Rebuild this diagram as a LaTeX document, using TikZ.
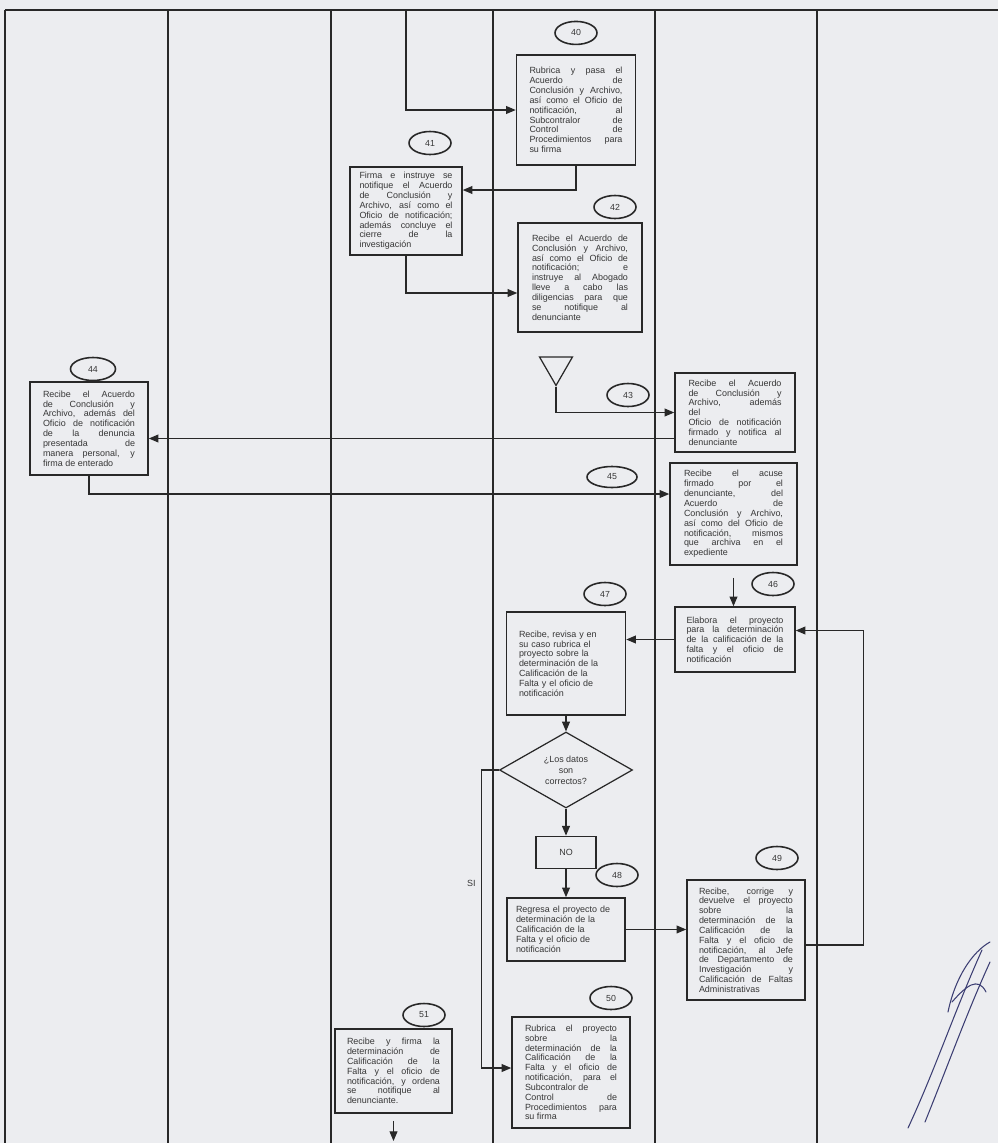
\documentclass[tikz,border=0pt]{standalone}
\usepackage{fontspec}
\setmainfont{Liberation Sans}
\usepackage{tikz}
\usetikzlibrary{positioning,arrows.meta,shapes.geometric}

\definecolor{papel}{RGB}{236,237,240}
\definecolor{tinta}{RGB}{40,40,40}
\definecolor{letra}{RGB}{55,55,55}
\definecolor{firmatinta}{RGB}{60,62,115}

\hyphenpenalty=10000
\tolerance=10000

\begin{document}
\begin{tikzpicture}[
    x=0.02cm, y=-0.02cm,
    node distance=0.2cm and 0.3cm,
    paso/.style={rectangle, draw=tinta, line width=0.9pt, align=justify, inner sep=2pt, text=letra, font=\fontsize{5.1}{5.6}\selectfont},
    num/.style={ellipse, draw=tinta, line width=0.9pt, minimum width=0.84cm, minimum height=0.46cm, inner sep=0pt, text=letra, font=\fontsize{5}{5.5}\selectfont},
    decision/.style={diamond, draw=tinta, line width=0.7pt, aspect=1.75, minimum width=2.66cm, minimum height=1.52cm, inner sep=0pt, align=center, text=letra, font=\fontsize{5.1}{6.2}\selectfont},
    archivo/.style={regular polygon, regular polygon sides=3, shape border rotate=180, draw=tinta, line width=0.7pt, minimum size=0.76cm, inner sep=0pt},
    carril/.style={draw=tinta, line width=0.7pt},
    flecha/.style={draw=tinta, line width=0.6pt, ->},
    etiq/.style={text=letra, font=\fontsize{5.1}{5.6}\selectfont},
    firma/.style={draw=firmatinta, line width=0.6pt, line cap=round},
    >={Triangle[length=5.5pt,width=4.5pt]}
  ]

  % hoja y carriles
  \fill[papel] (0,0) rectangle (998,1143);
  \useasboundingbox (0,0) rectangle (998,1143);
  \draw[carril] (5,10) -- (998,10);
  \foreach \x in {5,168,331,493,655,817}
    \draw[carril] (\x,10) -- (\x,1143);

  % pasos 40 a 43
  \node[paso, minimum width=2.38cm, minimum height=2.2cm, text width=1.86cm] (b40) at (576,110) {Rubrica y pasa el\linebreak Acuerdo de\linebreak Conclusión y Archivo,\linebreak así como el Oficio de\linebreak notificación, al\linebreak Subcontralor de\linebreak Control de\linebreak Procedimientos para\linebreak su firma};
  \node[num, above=0.18cm of b40] (n40) {40};

  \node[paso, minimum width=2.24cm, minimum height=1.76cm, text width=1.86cm] (b41) at (406,211) {Firma e instruye se\linebreak notifique el Acuerdo\linebreak de Conclusión y\linebreak Archivo, así como el\linebreak Oficio de notificación;\linebreak además concluye el\linebreak cierre de la\linebreak investigación};
  \node[num] (n41) at (430,143) {41};

  \node[paso, minimum width=2.48cm, minimum height=2.18cm, text width=1.92cm] (b42) at (580,277.5) {Recibe el Acuerdo de\linebreak Conclusión y Archivo,\linebreak así como el Oficio de\linebreak notificación; e\linebreak instruye al Abogado\linebreak lleve a cabo las\linebreak diligencias para que\linebreak se notifique al\linebreak denunciante};
  \node[num] (n42) at (615,207) {42};

  \node[archivo] (tri) at (556,366.5) {};

  \node[paso, minimum width=2.4cm, minimum height=1.58cm, text width=1.86cm] (b43) at (735,412.5) {Recibe el Acuerdo\linebreak de Conclusión y\linebreak Archivo, además\linebreak del\\ Oficio de notificación\linebreak firmado y notifica al\linebreak denunciante};
  \node[num] (n43) at (628,395) {43};

  % pasos 44 a 46
  \node[paso, minimum width=2.36cm, minimum height=1.86cm, text width=1.84cm] (b44) at (89,428.5) {Recibe el Acuerdo\linebreak de Conclusión y\linebreak Archivo, además del\linebreak Oficio de notificación\linebreak de la denuncia\linebreak presentada de\linebreak manera personal, y\linebreak firma de enterado};
  \node[num, minimum width=0.9cm] (n44) at (93,369) {44};

  \node[paso, minimum width=2.54cm, minimum height=2.04cm, text width=1.98cm] (b45) at (733.5,514) {Recibe el acuse\linebreak firmado por el\linebreak denunciante, del\linebreak Acuerdo de\linebreak Conclusión y Archivo,\linebreak así como del Oficio de\linebreak notificación, mismos\linebreak que archiva en el\linebreak expediente};
  \node[num, minimum width=1cm, minimum height=0.42cm] (n45) at (612,477) {45};

  \node[paso, minimum width=2.4cm, minimum height=1.3cm, text width=1.94cm] (b46) at (735,639.5) {Elabora el proyecto\linebreak para la determinación\linebreak de la calificación de la\linebreak falta y el oficio de\linebreak notificación};
  \node[num] (n46) at (773,584) {46};

  % revision y decision
  \node[paso, align=left, minimum width=2.38cm, minimum height=2.06cm, text width=1.88cm] (b47) at (566,663.5) {Recibe, revisa y en\\ su caso rubrica el\\ proyecto sobre la\\ determinación de la\\ Calificación de la\\ Falta y el oficio de\\ notificación};
  \node[num] (n47) at (605,594) {47};

  \node[decision] (dec) at (566,770) {¿Los datos\\ son\\ correctos?};
  \node[paso, align=center, minimum width=1.2cm, minimum height=0.64cm, below=0.54cm of dec] (no) {NO};

  \node[paso, align=left, minimum width=2.36cm, minimum height=1.26cm, text width=2cm, below=0.56cm of no] (b48) {Regresa el proyecto de\\ determinación de la\\ Calificación de la\\ Falta y el oficio de\\ notificación};
  \node[num] (n48) at (617,875) {48};

  \node[paso, minimum width=2.36cm, minimum height=2.4cm, text width=1.88cm] (b49) at (746,940) {Recibe, corrige y\linebreak devuelve el proyecto\linebreak sobre la\linebreak determinación de la\linebreak Calificación de la\linebreak Falta y el oficio de\linebreak notificación, al Jefe\linebreak de Departamento de\linebreak Investigación y\linebreak Calificación de Faltas\linebreak Administrativas};
  \node[num] (n49) at (777,858) {49};

  % pasos 50 y 51
  \node[paso, minimum width=2.36cm, minimum height=2.22cm, text width=1.84cm] (b50) at (571,1072.5) {Rubrica el proyecto\linebreak sobre la\linebreak determinación de la\linebreak Calificación de la\linebreak Falta y el oficio de\linebreak notificación, para el\linebreak Subcontralor de\\ Control de\linebreak Procedimientos para\linebreak su firma};
  \node[num] (n50) at (611,998) {50};

  \node[paso, minimum width=2.34cm, minimum height=1.68cm, text width=1.86cm] (b51) at (393.5,1071) {Recibe y firma la\linebreak determinación de\linebreak Calificación de la\linebreak Falta y el oficio de\linebreak notificación, y ordena\linebreak se notifique al\linebreak denunciante.};
  \node[num] (n51) at (424,1015) {51};

  % conectores
  \coordinate (ent40) at (406,10);
  \coordinate (s43) at ([yshift=-0.52cm]b43.west);
  \coordinate (sal51) at (393.5,1141);

  \draw[flecha] (ent40) |- (b40.west);
  \draw[flecha] (b40.south) |- ([yshift=0.42cm]b41.east);
  \draw[flecha] (b41.south) |- ([yshift=-0.31cm]b42.west);
  \draw[flecha] (tri.south) |- (b43.west);
  \draw[flecha] (s43) -- (s43 -| b44.east);
  \draw[flecha] (b44.south) |- ([yshift=0.4cm]b45.west);
  \draw[flecha, shorten <=0.24cm] (b45.south) -- (b45.south |- b46.north);
  \draw[flecha] (b46.west) -- (b46.west -| b47.east);
  \draw[flecha] (b47.south) -- (dec.north);
  \draw[flecha] (dec.south) -- (no.north);
  \draw[flecha] (no.south) -- (b48.north);
  \draw[flecha] (b48.east) -- (b48.east -| b49.west);
  \draw[flecha] ([yshift=-0.1cm]b49.east) -- ++(58,0) |- ([yshift=0.18cm]b46.east);
  \draw[flecha] (dec.west) -- ++(-17,0) |- node[etiq, pos=0.19, left] (si) {SI} ([yshift=0.09cm]b50.west);
  \draw[flecha, shorten <=0.14cm] (b51.south) -- (sal51);

  % firma
  \draw[firma] (908,1128) .. controls (935,1070) and (955,1010) .. (982,950);
  \draw[firma] (925,1122) .. controls (950,1060) and (968,1010) .. (990,962);
  \draw[firma] (948,1012) .. controls (955,978) and (972,952) .. (990,942);
  \draw[firma] (952,1002) .. controls (966,986) and (978,976) .. (986,992);

\end{tikzpicture}
\end{document}
